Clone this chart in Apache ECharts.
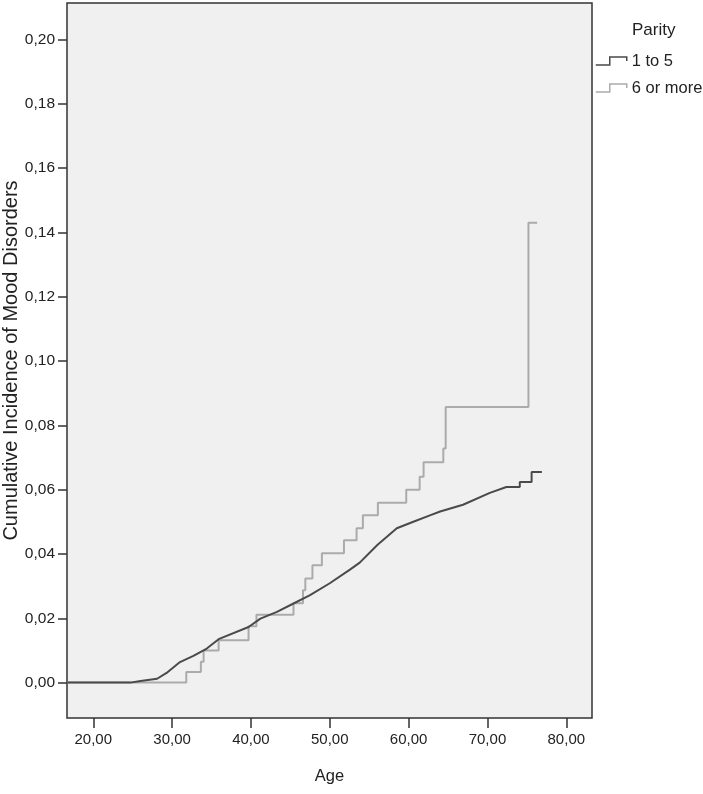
<!DOCTYPE html>
<html>
<head>
<meta charset="utf-8">
<script src="https://cdn.jsdelivr.net/npm/echarts@6/dist/echarts.min.js"></script>
<style>
html,body{margin:0;padding:0;background:#fff;}
#chart{width:703px;height:794px;}
</style>
</head>
<body>
<div id="chart"></div>
<script>
// ---- data ----
var seriesNames = ['1 to 5', '6 or more'];
var seriesColors = ['#4a4a4a', '#ababab'];
var xTicks = [20, 30, 40, 50, 60, 70, 80];
var yTicks = [0, 0.02, 0.04, 0.06, 0.08, 0.10, 0.12, 0.14, 0.16, 0.18, 0.20];

// Parity 1 to 5 (dark curve)
var ageLow = [16.7, 24.7, 26.0, 28.1, 29.3, 31.0, 32.7, 34.4, 35.9, 39.7, 41.2, 43.3, 45.4, 47.5, 50.0, 52.6, 53.8, 56.0, 56.4, 58.5, 60.6, 62.7, 64.0, 66.9, 70.3, 72.4, 74.1, 74.1, 75.6, 75.6, 76.9];
var ciLow  = [0, 0, 0.0005, 0.0012, 0.0030, 0.0064, 0.0083, 0.0106, 0.0135, 0.0173, 0.0199, 0.0220, 0.0246, 0.0272, 0.0309, 0.0352, 0.0373, 0.0427, 0.0436, 0.0480, 0.0500, 0.0520, 0.0532, 0.0553, 0.0590, 0.0608, 0.0608, 0.0624, 0.0624, 0.0655, 0.0655];

// Parity 6 or more (light step curve), level from each age onward
var ageHigh = [16.7, 31.8, 33.65, 34.0, 35.9, 39.7, 40.7, 45.4, 46.6, 46.9, 47.8, 49.0, 51.8, 53.4, 54.2, 56.1, 59.7, 61.4, 61.9, 64.4, 64.7, 75.2, 76.3];
var ciHigh  = [0, 0.0033, 0.0065, 0.0100, 0.0132, 0.0175, 0.0211, 0.0247, 0.0287, 0.0324, 0.0365, 0.0402, 0.0443, 0.0480, 0.0520, 0.0559, 0.0600, 0.0640, 0.0685, 0.0728, 0.0857, 0.1430, 0.1430];

function pairs(xs, ys) { return xs.map(function (x, i) { return [x, ys[i]]; }); }
function comma(v, d) { return v.toFixed(d).replace('.', ','); }

var FONT = "'Liberation Sans', Arial, sans-serif";
var chart = echarts.init(document.getElementById('chart'), null, {renderer: 'canvas'});
chart.setOption({
  animation: false,
  backgroundColor: '#ffffff',
  title: {
    text: 'Parity', left: 627, top: 17,
    textStyle: {fontFamily: FONT, fontSize: 17, fontWeight: 'normal', color: '#222'}
  },
  legend: {
    orient: 'vertical', left: 595, top: 52, padding: 0,
    itemWidth: 31, itemHeight: 8, itemGap: 9,
    icon: 'path://M0,8 L14,8 L14,0 L31,0 L31,4',
    textStyle: {fontFamily: FONT, fontSize: 16.5, color: '#222', lineHeight: 18, padding: [0, 0, 0, 0]},
    data: seriesNames.map(function (n, i) {
      return {name: n, itemStyle: {color: 'transparent', borderColor: seriesColors[i], borderWidth: 1.5}};
    })
  },
  grid: {
    left: 67, top: 3, right: 111, bottom: 76,
    outerBoundsMode: 'none', containLabel: false,
    show: true, backgroundColor: '#f0f0f0', borderColor: '#333', borderWidth: 1.5
  },
  xAxis: {
    type: 'value', min: 16.67, max: 83.26,
    name: 'Age', nameLocation: 'middle', nameGap: 50, nameMoveOverlap: false,
    nameTextStyle: {fontFamily: FONT, fontSize: 16.5, color: '#222'},
    axisLine: {show: false, onZero: false},
    splitLine: {show: false},
    axisTick: {show: true, length: 10, lineStyle: {color: '#333', width: 1.5}, customValues: xTicks},
    axisLabel: {customValues: xTicks, margin: 14, fontFamily: FONT, fontSize: 15, color: '#222',
      formatter: function (v) { return comma(v, 2); }}
  },
  yAxis: {
    type: 'value', min: -0.011, max: 0.2113,
    name: 'Cumulative Incidence of Mood Disorders', nameLocation: 'middle', nameGap: 46, nameMoveOverlap: false,
    nameTextStyle: {fontFamily: FONT, fontSize: 20, color: '#222'},
    axisLine: {show: false, onZero: false},
    splitLine: {show: false},
    axisTick: {show: true, length: 9, lineStyle: {color: '#333', width: 1.5}, customValues: yTicks},
    axisLabel: {customValues: yTicks, margin: 12, fontFamily: FONT, fontSize: 15.5, color: '#222',
      formatter: function (v) { return comma(v, 2); }}
  },
  series: [
    {
      name: seriesNames[0], type: 'line', data: pairs(ageLow, ciLow),
      showSymbol: false, symbol: 'none', z: 3,
      itemStyle: {color: seriesColors[0]},
      lineStyle: {color: seriesColors[0], width: 2}
    },
    {
      name: seriesNames[1], type: 'line', step: 'end', data: pairs(ageHigh, ciHigh),
      showSymbol: false, symbol: 'none', z: 2,
      itemStyle: {color: seriesColors[1]},
      lineStyle: {color: seriesColors[1], width: 2}
    }
  ]
});
</script>
</body>
</html>
